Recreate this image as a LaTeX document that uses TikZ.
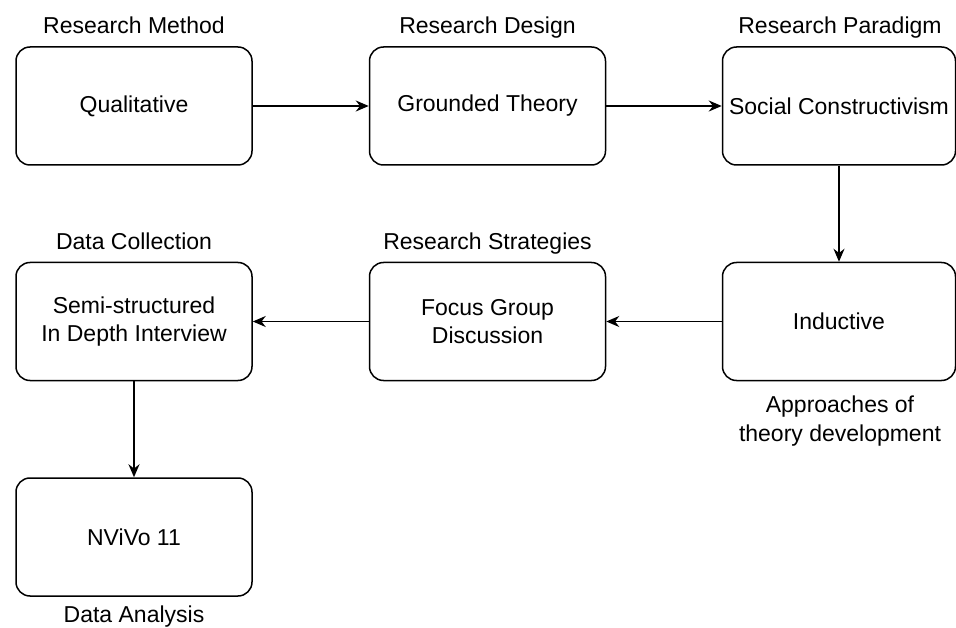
\documentclass[tikz,border=0pt]{standalone}
\usepackage{fontspec}
\setmainfont{Liberation Sans}
\usetikzlibrary{arrows.meta}
\begin{document}
\begin{tikzpicture}[x=1pt,y=-1pt,
  stage/.style={draw, line width=1.5pt, rounded corners=14pt,
    minimum width=236pt, minimum height=118pt, align=center,
    inner sep=0pt, font=\fontsize{23}{28.5}\selectfont},
  caption/.style={align=center, inner sep=0pt, font=\fontsize{23}{28.5}\selectfont},
  flow/.style={line width=1.5pt, -{Stealth[length=13pt,width=11pt]}}]
\useasboundingbox (0,0) rectangle (956,628);

% process stages
\node[stage] (qual) at (134,106) {Qualitative};
\node[stage] (gt)   at (487.5,106) {Grounded Theory};
\node[stage, minimum width=233pt] (sc) at (839,106) {Social Constructivism};
\node[stage, minimum width=233pt] (ind) at (839,321.5) {Inductive};
\node[stage] (fg)   at (487.5,321.5) {Focus Group\\Discussion};
\node[stage] (semi) at (134,321.5) {Semi-structured\\In Depth Interview};
\node[stage] (nv)   at (134,537) {NViVo 11};

% stage captions
\node[caption, anchor=base] (cqual) at (134,34) {Research Method};
\node[caption, anchor=base] (cgt)   at (487.5,34) {Research Design};
\node[caption, anchor=base] (csc)   at (840,34) {Research Paradigm};
\node[caption, anchor=base] (csemi) at (134,250) {Data Collection};
\node[caption, anchor=base] (cfg)   at (487.5,250) {Research Strategies};
\node[caption, anchor=north] (cind) at (840,396) {Approaches of\\theory development};
\node[caption, anchor=base] (cnv)   at (134,622) {Data Analysis};

% flow between stages
\draw[flow] (qual) -- (gt);
\draw[flow] (gt) -- (sc);
\draw[flow] (sc) -- (ind);
\draw[flow] (ind) -- (fg);
\draw[flow] (fg) -- (semi);
\draw[flow] (semi) -- (nv);
\end{tikzpicture}
\end{document}
